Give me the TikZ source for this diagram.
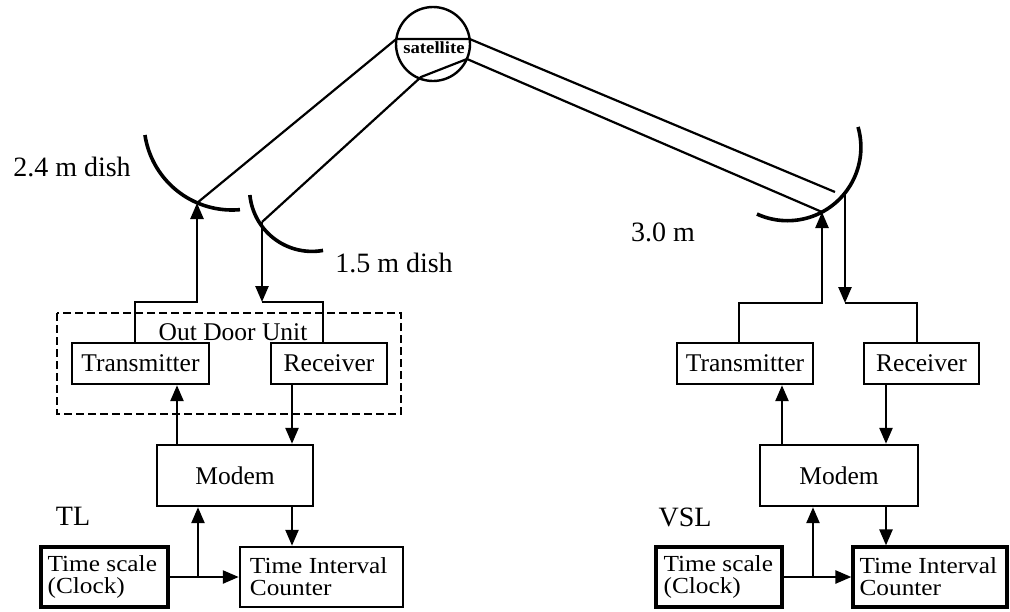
\documentclass[tikz,border=0pt]{standalone}
\usepackage{fontspec}
\setmainfont{Liberation Serif}
\newfontfamily\stretchfont{Liberation Serif}[FakeStretch=1.1]
\usetikzlibrary{arrows.meta}
\begin{document}
\begin{tikzpicture}[x=1pt,y=-1pt,
  box/.style={draw, line width=2.4pt, inner sep=0pt, minimum height=41pt, font=\fontsize{25.5}{26}\selectfont},
  bigbox/.style={draw, line width=2.4pt, inner sep=0pt, minimum height=61pt, font=\fontsize{25.5}{26}\selectfont},
  clkbox/.style={draw, line width=3.2pt, inner sep=0pt, minimum height=60pt},
  ticbox/.style={draw, line width=2.5pt, inner sep=0pt, minimum height=60pt},
  twoline/.style={inner sep=0pt, align=left, anchor=west, font=\stretchfont\fontsize{23}{22}\selectfont},
  lbl/.style={inner sep=0pt, font=\fontsize{28}{28}\selectfont},
  wire/.style={line width=2.5pt},
  arr/.style={line width=2.5pt, -{Triangle[length=16pt,width=13pt]}},
  beam/.style={line width=2.2pt, line join=miter},
  dish/.style={line width=3.6pt},
]
\useasboundingbox (0,0) rectangle (1010,611);
\fill[white] (0,0) rectangle (1010,611);

% ---------- satellite ----------
\node[draw, circle, line width=2.4pt, minimum size=74pt, inner sep=0pt] (sat) at (433,44) {};
\node[inner sep=0pt, font=\stretchfont\bfseries\fontsize{17}{17}\selectfont] (satl) at (434,48) {satellite};
\coordinate (satUL) at (396.3,39);
\coordinate (satUR) at (469.7,39);
\coordinate (satLR) at (467,59);
\coordinate (satLL) at (421,77);

% ---------- dishes ----------
\draw[dish] plot[domain=84.8:171.5, samples=60] ({232+88*cos(\x)},{122+88*sin(\x)});
\draw[dish] plot[domain=79.8:174.5, samples=60] ({312+62.4*cos(\x)},{189+62.4*sin(\x)});
\draw[dish] plot[domain=-16.1:114.6, samples=60] ({787.5+73.4*cos(\x)},{147.3+73.4*sin(\x)});
\coordinate (d24) at (197,203);
\coordinate (d15) at (262,222);
\coordinate (d30t) at (822,212);
\coordinate (d30r) at (845,192);
\coordinate (d30u) at (835,192);

% beams
\draw[beam] (d24) -- (satUL) -- (satUR) -- (d30u);
\draw[beam] (d30t) -- (satLR) -- (satLL) -- (d15);

% labels
\node[lbl] (l24) at (72,167) {2.4 m dish};
\node[lbl] (l15) at (394,263) {1.5 m dish};
\node[lbl] (l30) at (663,232) {3.0 m};
\node[lbl] (ltl) at (73,516) {TL};
\node[lbl] (lvsl) at (685,517) {VSL};

% ---------- left station ----------
\draw[line width=2.4pt, dash pattern=on 8pt off 4pt] (57,313) rectangle (401,414);
\node[inner sep=0pt, font=\fontsize{25.5}{26}\selectfont] (odu) at (233,332) {Out Door Unit};
\node[box, minimum width=137pt] (ltx) at (140.5,363.5) {Transmitter};
\node[box, minimum width=116pt] (lrx) at (329,363.5) {Receiver};
\node[bigbox, minimum width=156pt] (lmod) at (235,475.5) {Modem};
\node[clkbox, minimum width=127pt] (lclk) at (104.5,577) {};
\node[twoline] (lclkt) at ([xshift=8pt]lclk.west) {Time scale\\(Clock)};
\node[ticbox, minimum width=163pt] (ltic) at (321.5,577) {};
\node[twoline] (ltict) at ([xshift=11pt]ltic.west) {Time Interval\\Counter};

\coordinate (Lxa) at (135,0);
\coordinate (Lxd) at (323,0);
\coordinate (Lxe) at (177,0);
\coordinate (Lxf) at (292,0);
\coordinate (Lxg) at (198,0);
\coordinate (Lyj) at (0,302);

\draw[arr] (ltx.north -| Lxa) |- (Lyj -| d24) -- (d24);
\draw[arr] (d15) -- (Lyj -| d15);
\draw[wire] (Lyj -| d15) -| (lrx.north -| Lxd);
\draw[arr] (lmod.north -| Lxe) -- (ltx.south -| Lxe);
\draw[arr] (lrx.south -| Lxf) -- (lmod.north -| Lxf);
\draw[arr] (lmod.south -| Lxf) -- (ltic.north -| Lxf);
\draw[arr] (lclk.east) -- (ltic.west);
\draw[arr] (lclk.east -| Lxg) -- (lmod.south -| Lxg);

% ---------- right station ----------
\node[box, minimum width=136pt] (rtx) at (745,363.5) {Transmitter};
\node[box, line width=2.8pt, minimum width=115pt] (rrx) at (921.5,363.5) {Receiver};
\node[bigbox, minimum width=158pt] (rmod) at (839,475.5) {Modem};
\node[clkbox, minimum width=126pt] (rclk) at (719,577) {};
\node[twoline] (rclkt) at ([xshift=9pt]rclk.west) {Time scale\\(Clock)};
\node[clkbox, minimum width=154pt] (rtic) at (930,577) {};
\node[twoline] (rtict) at ([xshift=8pt]rtic.west) {Time Interval\\Counter};

\coordinate (Rxa) at (739,0);
\coordinate (Rxd) at (917,0);
\coordinate (Rxe) at (782,0);
\coordinate (Rxf) at (886,0);
\coordinate (Rxg) at (813,0);
\coordinate (Ryj) at (0,303);

\draw[arr] (rtx.north -| Rxa) |- (Ryj -| d30t) -- (d30t);
\draw[arr] (d30r) -- (Ryj -| d30r);
\draw[wire] (Ryj -| d30r) -| (rrx.north -| Rxd);
\draw[arr] (rmod.north -| Rxe) -- (rtx.south -| Rxe);
\draw[arr] (rrx.south -| Rxf) -- (rmod.north -| Rxf);
\draw[arr] (rmod.south -| Rxf) -- (rtic.north -| Rxf);
\draw[arr] (rclk.east) -- (rtic.west);
\draw[arr] (rclk.east -| Rxg) -- (rmod.south -| Rxg);
\end{tikzpicture}
\end{document}
